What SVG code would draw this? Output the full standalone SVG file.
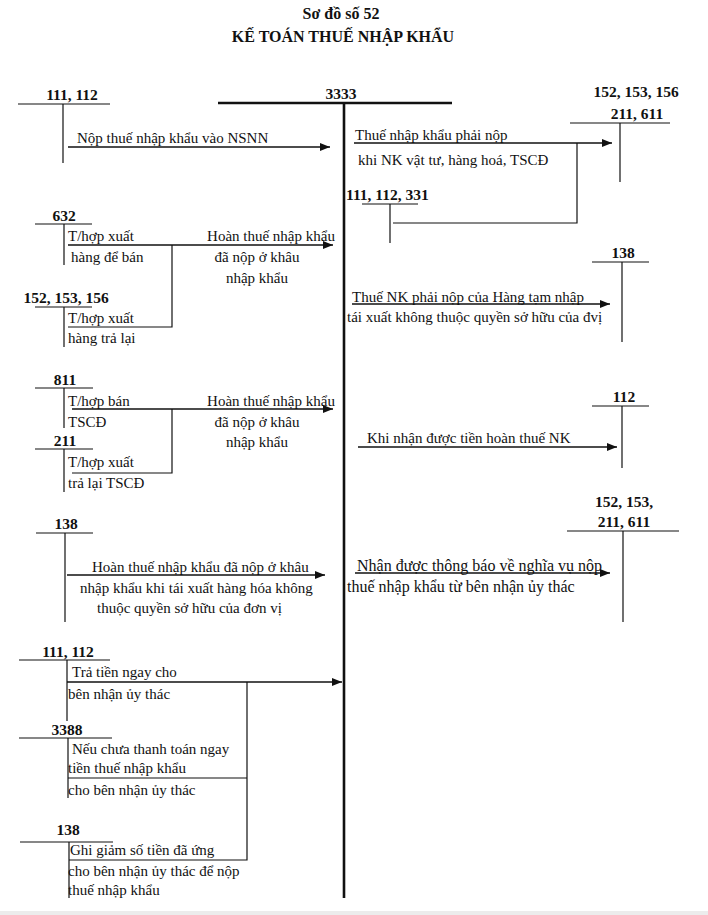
<svg xmlns="http://www.w3.org/2000/svg" width="708" height="915" viewBox="0 0 708 915">
<style>
text{font-family:"Liberation Serif","Times New Roman",serif;fill:#111;font-size:15px}
.b{font-weight:bold;font-size:15.5px}
.t{font-weight:bold;font-size:16px}
.c{text-anchor:middle}
.ln{stroke:#111;stroke-width:1.2;fill:none}
.th{stroke:#111;stroke-width:2.6;fill:none}
.ar{stroke:#111;stroke-width:1.3;fill:none;marker-end:url(#ah)}
</style>
<defs>
<marker id="ah" viewBox="0 0 10 8" refX="10" refY="4" markerWidth="10" markerHeight="8" markerUnits="userSpaceOnUse" orient="auto">
<path d="M0,0 L10,4 L0,8 Z" fill="#111"/>
</marker>
</defs>
<rect width="708" height="915" fill="#fff"/>
<rect x="0" y="911" width="708" height="4" fill="#ececec"/>
<g id="title">
<text class="t c" x="341" y="19">Sơ đồ số 52</text>
<text class="t c" x="343" y="42">KẾ TOÁN THUẾ NHẬP KHẨU</text>
</g>
<g id="acc-111-112-top">
<text class="b c" x="72" y="100">111, 112</text>
<line class="ln" x1="18" y1="104" x2="110" y2="104"/>
<line class="ln" x1="63" y1="104" x2="63" y2="163"/>
</g>
<g id="acc-3333">
<text class="b c" x="341" y="99">3333</text>
<line class="th" x1="218" y1="103" x2="452" y2="103"/>
<line class="th" x1="344" y1="103" x2="344" y2="898"/>
</g>
<g id="acc-152-153-156-top">
<text class="b c" x="636" y="97">152, 153, 156</text>
<text class="b c" x="637" y="119">211, 611</text>
<line class="ln" x1="570" y1="123" x2="670" y2="123"/>
<line class="ln" x1="620" y1="123" x2="620" y2="182"/>
</g>
<g id="acc-111-112-331">
<text class="b" x="346" y="200">111, 112, 331</text>
<line class="ln" x1="362" y1="204" x2="418" y2="204"/>
<line class="ln" x1="390" y1="204" x2="390" y2="243"/>
</g>
<g id="acc-632">
<text class="b c" x="64" y="221">632</text>
<line class="ln" x1="35" y1="224" x2="92" y2="224"/>
<line class="ln" x1="64" y1="224" x2="64" y2="265"/>
</g>
<g id="acc-152-153-156-left">
<text class="b c" x="66" y="303">152, 153, 156</text>
<line class="ln" x1="35" y1="307" x2="92" y2="307"/>
<line class="ln" x1="64" y1="307" x2="64" y2="347"/>
</g>
<g id="acc-138-right">
<text class="b c" x="623" y="258">138</text>
<line class="ln" x1="592" y1="262" x2="649" y2="262"/>
<line class="ln" x1="622" y1="262" x2="622" y2="342"/>
</g>
<g id="acc-811">
<text class="b c" x="65" y="385">811</text>
<line class="ln" x1="35" y1="388" x2="93" y2="388"/>
<line class="ln" x1="64" y1="388" x2="64" y2="428"/>
</g>
<g id="acc-211">
<text class="b c" x="65" y="446">211</text>
<line class="ln" x1="35" y1="449" x2="93" y2="449"/>
<line class="ln" x1="64" y1="449" x2="64" y2="492"/>
</g>
<g id="acc-112-right">
<text class="b c" x="624" y="402">112</text>
<line class="ln" x1="592" y1="406" x2="649" y2="406"/>
<line class="ln" x1="622" y1="406" x2="622" y2="468"/>
</g>
<g id="acc-138-left">
<text class="b c" x="66" y="529">138</text>
<line class="ln" x1="36" y1="533" x2="93" y2="533"/>
<line class="ln" x1="65" y1="533" x2="65" y2="622"/>
</g>
<g id="acc-152-153-211-611">
<text class="b c" x="624" y="507">152, 153,</text>
<text class="b c" x="624" y="527">211, 611</text>
<line class="ln" x1="567" y1="531" x2="679" y2="531"/>
<line class="ln" x1="623" y1="531" x2="623" y2="622"/>
</g>
<g id="acc-111-112-bottom">
<text class="b c" x="68" y="657">111, 112</text>
<line class="ln" x1="19" y1="660" x2="110" y2="660"/>
<line class="ln" x1="67" y1="660" x2="67" y2="721"/>
</g>
<g id="acc-3388">
<text class="b c" x="67" y="735">3388</text>
<line class="ln" x1="19" y1="738" x2="112" y2="738"/>
<line class="ln" x1="68" y1="738" x2="68" y2="798"/>
</g>
<g id="acc-138-bottom">
<text class="b c" x="68" y="835">138</text>
<line class="ln" x1="20" y1="842" x2="113" y2="842"/>
<line class="ln" x1="69" y1="842" x2="69" y2="898"/>
</g>
<g id="connectors">
<line class="ar" x1="68" y1="147" x2="330" y2="147"/>
<text x="77" y="143">Nộp thuế nhập khẩu vào NSNN</text>
<line class="ar" x1="354" y1="143" x2="612" y2="143"/>
<text x="355" y="140">Thuế nhập khẩu phải nộp</text>
<text x="358" y="165">khi NK vật tư, hàng hoá, TSCĐ</text>
<polyline class="ln" points="393,223 577,223 577,143"/>
<line class="ar" x1="68" y1="245" x2="333" y2="245"/>
<polyline class="ln" points="68,327 172,327 172,245"/>
<text x="68" y="241">T/hợp xuất</text>
<text x="71" y="262">hàng để bán</text>
<text x="68" y="323">T/hợp xuất</text>
<text x="68" y="343">hàng trả lại</text>
<text class="c" x="271" y="241">Hoàn thuế nhập khẩu</text>
<text class="c" x="257" y="262">đã nộp ở khâu</text>
<text class="c" x="257" y="283">nhập khẩu</text>
<line class="ar" x1="352" y1="304" x2="610" y2="304"/>
<text x="352" y="302">Thuế NK phải nộp của Hàng tạm nhập</text>
<text x="347" y="322">tái xuất không thuộc quyền sở hữu của đvị</text>
<line class="ar" x1="72" y1="409" x2="333" y2="409"/>
<polyline class="ln" points="72,473 172,473 172,409"/>
<text x="68" y="406">T/hợp bán</text>
<text x="68" y="427">TSCĐ</text>
<text x="68" y="467">T/hợp xuất</text>
<text x="68" y="488">trả lại TSCĐ</text>
<text class="c" x="271" y="406">Hoàn thuế nhập khẩu</text>
<text class="c" x="257" y="427">đã nộp ở khâu</text>
<text class="c" x="257" y="447">nhập khẩu</text>
<line class="ar" x1="358" y1="447" x2="617" y2="447"/>
<text x="367" y="443">Khi nhận được tiền hoàn thuế NK</text>
<line class="ar" x1="67" y1="575" x2="325" y2="575"/>
<text x="92" y="572">Hoàn thuế nhập khẩu đã nộp ở khâu</text>
<text x="80" y="593">nhập khẩu khi tái xuất hàng hóa không</text>
<text x="97" y="613">thuộc quyền sở hữu của đơn vị</text>
<line class="ar" x1="355" y1="573" x2="610" y2="573"/>
<text x="357" y="571" style="font-size:16px">Nhận được thông báo về nghĩa vụ nộp</text>
<text x="347" y="592" style="font-size:16px">thuế nhập khẩu từ bên nhận ủy thác</text>
<line class="ar" x1="67" y1="682" x2="342" y2="682"/>
<polyline class="ln" points="68,778 247,778"/>
<polyline class="ln" points="69,860 247,860 247,682"/>
<text x="72" y="677">Trả tiền ngay cho</text>
<text x="68" y="699">bên nhận ủy thác</text>
<text x="72" y="754">Nếu chưa thanh toán ngay</text>
<text x="68" y="773">tiền thuế nhập khẩu</text>
<text x="68" y="795">cho bên nhận ủy thác</text>
<text x="70" y="855">Ghi giảm số tiền đã ứng</text>
<text x="68" y="876">cho bên nhận ủy thác để nộp</text>
<text x="68" y="895">thuế nhập khẩu</text>
</g>
</svg>
